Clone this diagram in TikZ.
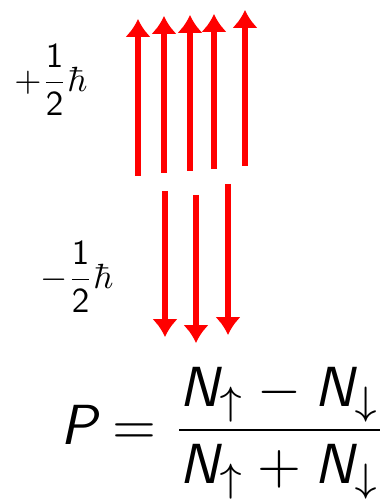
\documentclass[tikz,border=0pt]{standalone}
\usetikzlibrary{arrows.meta}
\usepackage{amsmath}
\newcommand{\sfi}[1]{\text{\sffamily\itshape #1}}
\begin{document}
\begin{tikzpicture}[x=1pt,y=-1pt,
  spin/.style={draw=red,line width=6pt,-{Latex[length=18pt,width=26pt]}},
  lbl/.style={inner sep=0pt,anchor=center,scale=3.5},
  eq/.style={inner sep=0pt,scale=5.65}]
\useasboundingbox (0,0) rectangle (384,502);
% up spins
\foreach \n/\x/\yb/\yt in {1/138/176/19,2/164/173/16,3/190/171/15,4/214/169/14,5/245/166/10}{
  \coordinate (ub\n) at (\x,\yb);
  \coordinate (ut\n) at (\x,\yt);
  \draw[spin] (ub\n) -- (ut\n);
}
% down spins
\foreach \n/\x/\yt/\yb in {1/165/191/337,2/196/195/343,3/228/184/335}{
  \coordinate (dt\n) at (\x,\yt);
  \coordinate (db\n) at (\x,\yb);
  \draw[spin] (dt\n) -- (db\n);
}
\node[lbl] (plus) at (51,80) {$+\dfrac{\mathsf{1}}{\mathsf{2}}\hbar$};
\node[lbl] (minus) at (77,277) {$-\dfrac{\mathsf{1}}{\mathsf{2}}\hbar$};
\node[eq] (pol) at (224,433) {$\sfi{P} = \dfrac{\sfi{N}_\uparrow - \sfi{N}_\downarrow}{\sfi{N}_\uparrow + \sfi{N}_\downarrow}$};
\end{tikzpicture}
\end{document}
